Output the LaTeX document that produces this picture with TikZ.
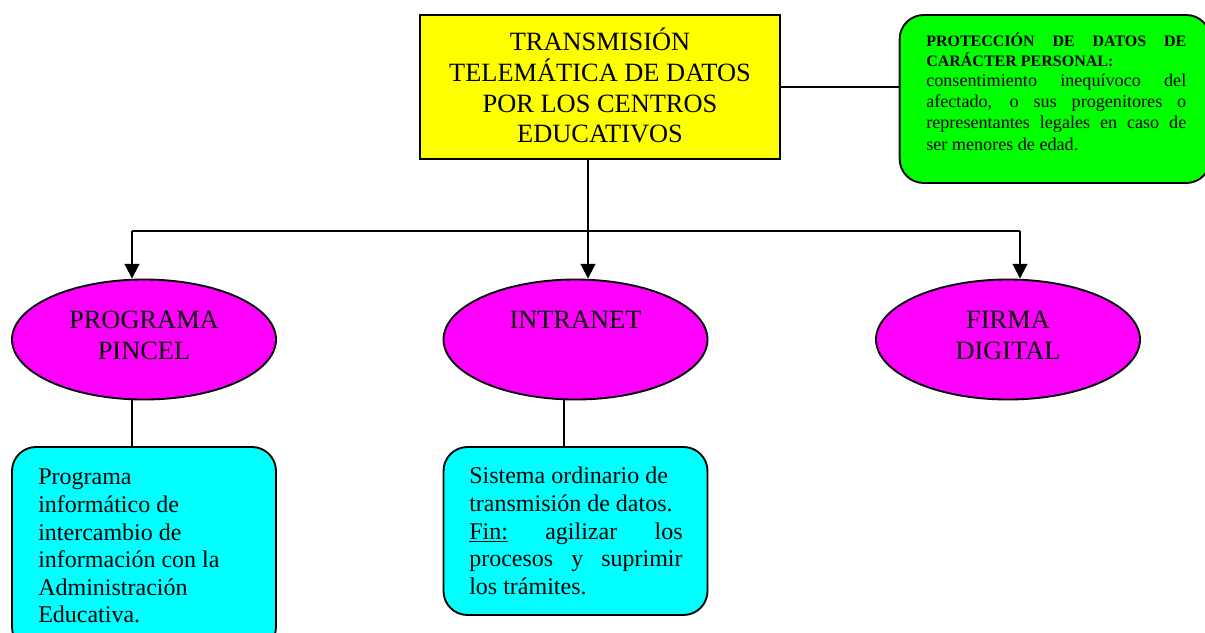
\documentclass[tikz,border=0pt]{standalone}
\usepackage{fontspec}
\setmainfont{Liberation Serif}
\usetikzlibrary{arrows.meta,shapes.geometric}
\newcommand{\jl}[2]{\makebox[#1][s]{#2}}
\newcommand{\protb}{\fontsize{12pt}{16.1pt}\selectfont\bfseries}
\tikzset{
  x=0.75pt,y=-0.75pt,
  shp/.style={draw=black,line width=1.4pt,inner sep=0pt},
  conn/.style={draw=black,line width=1.4pt},
  arr/.style={conn,-{Triangle[length=11pt,width=11pt]}},
  rbox/.style={shp,rectangle,rounded corners=18pt},
  oval/.style={shp,ellipse,fill=magenta1,minimum width=198pt,minimum height=90pt},
  big/.style={inner sep=0pt,align=center,font=\fontsize{19.8pt}{23.1pt}\selectfont},
  mid/.style={inner sep=0pt,align=left,anchor=north west,font=\fontsize{18pt}{20.7pt}\selectfont},
  small/.style={inner sep=0pt,align=left,anchor=north west,font=\fontsize{13.6pt}{16.1pt}\selectfont},
}
\definecolor{magenta1}{RGB}{255,0,255}
\definecolor{cyan1}{RGB}{0,255,255}
\definecolor{green1}{RGB}{0,255,0}
\definecolor{yellow1}{RGB}{255,255,0}
\begin{document}
\begin{tikzpicture}
\useasboundingbox (0,0) rectangle (1205,632);
\clip (0,0) rectangle (1205,632);
\node[shp,rectangle,fill=yellow1,minimum width=270pt,minimum height=108pt] (top) at (600,87.25) {};
\node[big] (toptext) at (600,85.5) {TRANSMISIÓN\\TELEMÁTICA DE DATOS\\POR LOS CENTROS\\EDUCATIVOS};
\node[rbox,fill=green1,minimum width=233pt,minimum height=126pt] (prot) at (1055,99) {};
\node[small] (prottext) at (926,33) {\protb\jl{195pt}{PROTECCIÓN DE DATOS DE}\\[-1.8pt]\protb CARÁCTER PERSONAL:\\[-1.1pt]\jl{195pt}{consentimiento inequívoco del}\\\jl{195pt}{afectado, o sus progenitores o}\\\jl{195pt}{representantes legales en caso de}\\ser menores de edad.};
\node[oval] (pincel) at (144,339.5) {};
\node[big] (pinceltext) at (144,335.5) {PROGRAMA\\PINCEL};
\node[oval] (intra) at (575.5,339.5) {};
\node[big] (intratext) at (575.5,320) {INTRANET};
\node[oval] (firma) at (1008,339.5) {};
\node[big] (firmatext) at (1008,335.5) {FIRMA\\DIGITAL};
\node[rbox,fill=cyan1,minimum width=198pt,minimum height=153pt] (bl) at (144,549) {};
\begin{scope}
\clip (20,455) rectangle (268,622);
\node[mid] (bltext) at (38,469) {Programa\\informático de\\intercambio de\\información con la\\Administración\\Educativa.};
\end{scope}
\node[rbox,fill=cyan1,minimum width=198pt,minimum height=126pt] (bm) at (575.5,531) {};
\node[mid] (bmtext) at (469,467) {Sistema ordinario de\\transmisión de datos.\\\jl{160pt}{\underline{Fin:} agilizar los}\\\jl{160pt}{procesos y suprimir}\\los trámites.};
\coordinate (busl) at (132,231);
\coordinate (busm) at (588,231);
\coordinate (busr) at (1020,231);
\coordinate (downl) at (pincel.south -| busl);
\coordinate (downmx) at (564,0);
\coordinate (downm) at (intra.south -| downmx);
\draw[conn] (top.south -| busm) -- (busm);
\draw[conn] (busl) -- (busr);
\draw[arr] (busl) -- (busl |- pincel.north);
\draw[arr] (busm) -- (busm |- intra.north);
\draw[arr] (busr) -- (busr |- firma.north);
\draw[conn] (top.east) -- (prot.west |- top.east);
\draw[conn] (downl) -- (downl |- bl.north);
\draw[conn] (downm) -- (downm |- bm.north);
\end{tikzpicture}
\end{document}
